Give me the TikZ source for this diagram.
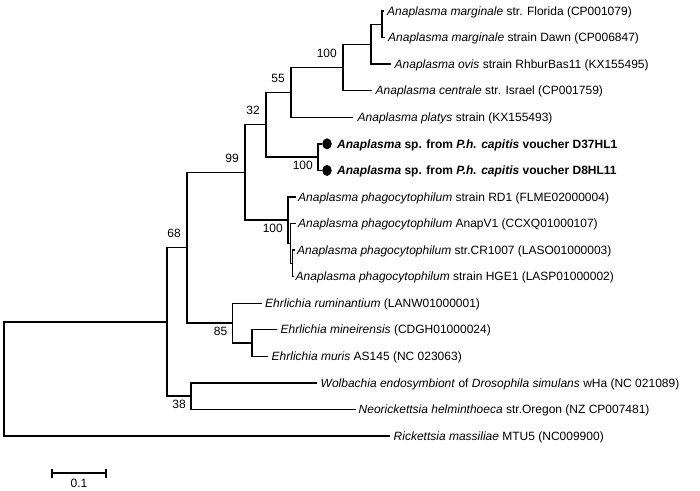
\documentclass[tikz,border=0pt]{standalone}
\usepackage{fontspec}
\setmainfont{Liberation Sans}
\usetikzlibrary{shapes.geometric}
\begin{document}
\begin{tikzpicture}[x=1pt,y=-1pt,
  br/.style={line width=1.4pt},
  txt/.style={inner sep=0pt, font=\fontsize{12}{14}\selectfont},
  leaf/.style={txt, anchor=base west},
  bsa/.style={txt, anchor=south east},
  bsb/.style={txt, anchor=north east},
  dotnode/.style={ellipse, fill=black, inner sep=0pt, minimum width=9.5pt, minimum height=11pt}]
\useasboundingbox (0,0) rectangle (700,490);
% internal nodes
\coordinate (root) at (4,379);
\coordinate (NB) at (167,321.9);
\coordinate (N68) at (187,247.75);
\coordinate (N99) at (245,172.4);
\coordinate (N32) at (266,124.7);
\coordinate (N55) at (291,92.3);
\coordinate (N100a) at (343,67.45);
\coordinate (OV) at (371,44.2);
\coordinate (FD) at (382,24.3);
\coordinate (ND) at (318,157.1);
\coordinate (PC) at (288,220.15);
\coordinate (PB) at (290.5,243.4);
\coordinate (PA) at (292.5,263.3);
\coordinate (N85) at (232.5,323.1);
\coordinate (EM) at (252,343);
\coordinate (N38) at (191,396.1);
% tips
\coordinate (t0) at (383.5,11);
\coordinate (t1) at (384.5,37.6);
\coordinate (t2) at (391,64.1);
\coordinate (t3) at (372,90.7);
\coordinate (t4) at (353,117.2);
\coordinate (t5) at (322,143.8);
\coordinate (t6) at (322,170.4);
\coordinate (t7) at (296,196.9);
\coordinate (t8) at (296,223.5);
\coordinate (t9) at (295,250);
\coordinate (t10) at (293.5,276.6);
\coordinate (t11) at (262,303.2);
\coordinate (t12) at (277,329.7);
\coordinate (t13) at (268,356.3);
\coordinate (t14) at (317,382.8);
\coordinate (t15) at (356,409.4);
\coordinate (t16) at (390,436);
% branches
\draw[br] (FD) |- (t0);  \draw[br] (FD) |- (t1);
\draw[br] (OV) |- (FD);  \draw[br] (OV) |- (t2);
\draw[br] (N100a) |- (OV); \draw[br] (N100a) |- (t3);
\draw[br] (N55) |- (N100a); \draw[br] (N55) |- (t4);
\draw[br] (N32) |- (N55); \draw[br] (N32) |- (ND);
\draw[br] (ND) |- (t5); \draw[br] (ND) |- (t6);
\draw[br] (N99) |- (N32); \draw[br] (N99) |- (PC);
\draw[br] (PC) |- (t7); \draw[br] (PC) |- (PB);
\draw[br] (PB) |- (t8); \draw[br] (PB) |- (PA);
\draw[br] (PA) |- (t9); \draw[br] (PA) |- (t10);
\draw[br] (N68) |- (N99); \draw[br] (N68) |- (N85);
\draw[br] (N85) |- (t11); \draw[br] (N85) |- (EM);
\draw[br] (EM) |- (t12); \draw[br] (EM) |- (t13);
\draw[br] (NB) |- (N68); \draw[br] (NB) |- (N38);
\draw[br] (N38) |- (t14); \draw[br] (N38) |- (t15);
\draw[br] (root) |- (NB); \draw[br] (root) |- (t16);
% dots
\node[dotnode] (d5) at (327,143.8) {};
\node[dotnode] (d6) at (327,170.4) {};
% leaf labels
\node[leaf] (l0) at ([shift={(3.5,4.2)}]t0) {\textit{Anaplasma marginale} str. Florida (CP001079)};
\node[leaf] (l1) at ([shift={(3.5,4.2)}]t1) {\textit{Anaplasma marginale} strain Dawn (CP006847)};
\node[leaf] (l2) at ([shift={(3.5,4.2)}]t2) {\textit{Anaplasma ovis} strain RhburBas11 (KX155495)};
\node[leaf] (l3) at ([shift={(3.5,4.2)}]t3) {\textit{Anaplasma centrale} str. Israel (CP001759)};
\node[leaf] (l4) at ([shift={(4.5,4.2)}]t4) {\textit{Anaplasma platys} strain (KX155493)};
\node[leaf] (l5) at (337,148) {\textbf{\textit{Anaplasma} sp. from \textit{P.h. capitis} voucher D37HL1}};
\node[leaf] (l6) at (337,174.6) {\textbf{\textit{Anaplasma} sp. from \textit{P.h. capitis} voucher D8HL11}};
\node[leaf] (l7) at ([shift={(2,4.2)}]t7) {\textit{Anaplasma phagocytophilum} strain RD1 (FLME02000004)};
\node[leaf] (l8) at ([shift={(2,4.2)}]t8) {\textit{Anaplasma phagocytophilum} AnapV1 (CCXQ01000107)};
\node[leaf] (l9) at ([shift={(2,4.2)}]t9) {\textit{Anaplasma phagocytophilum} str.CR1007 (LASO01000003)};
\node[leaf] (l10) at ([shift={(2,4.2)}]t10) {\textit{Anaplasma phagocytophilum} strain HGE1 (LASP01000002)};
\node[leaf] (l11) at ([shift={(3,4.2)}]t11) {\textit{Ehrlichia ruminantium} (LANW01000001)};
\node[leaf] (l12) at ([shift={(3.5,4.2)}]t12) {\textit{Ehrlichia mineirensis} (CDGH01000024)};
\node[leaf] (l13) at ([shift={(3.5,4.2)}]t13) {\textit{Ehrlichia muris} AS145 (NC 023063)};
\node[leaf] (l14) at ([shift={(3.5,4.2)}]t14) {\textit{Wolbachia endosymbiont} of \textit{Drosophila simulans} wHa (NC 021089)};
\node[leaf] (l15) at ([shift={(2.5,4.2)}]t15) {\textit{Neorickettsia helminthoeca} str.Oregon (NZ CP007481)};
\node[leaf] (l16) at ([shift={(3.5,4.2)}]t16) {\textit{Rickettsia massiliae} MTU5 (NC009900)};
% bootstrap values
\node[bsa] (b100a) at ([shift={(-6,-9.5)}]N100a) {100};
\node[bsa] (b55) at ([shift={(-6,-9.5)}]N55) {55};
\node[bsa] (b32) at ([shift={(-6,-9.5)}]N32) {32};
\node[bsa] (b99) at ([shift={(-6,-9.5)}]N99) {99};
\node[bsa] (b68) at ([shift={(-6,-9.5)}]N68) {68};
\node[bsb] (b100d) at ([shift={(-5,4)}]ND) {100};
\node[bsb] (b100p) at ([shift={(-5,4)}]PC) {100};
\node[bsb] (b85) at ([shift={(-5,4)}]N85) {85};
\node[bsb] (b38) at ([shift={(-5,4)}]N38) {38};
% scale bar
\coordinate (sb1) at (52,473);
\coordinate (sb2) at (106,473);
\draw[line width=1.3pt] (sb1) -- (sb2);
\draw[line width=1.3pt] ([yshift=-4.5pt]sb1) -- ([yshift=4.5pt]sb1);
\draw[line width=1.3pt] ([yshift=-4.5pt]sb2) -- ([yshift=4.5pt]sb2);
\node[txt, anchor=north] (sbl) at ([shift={(27,6)}]sb1) {0.1};
\end{tikzpicture}
\end{document}
